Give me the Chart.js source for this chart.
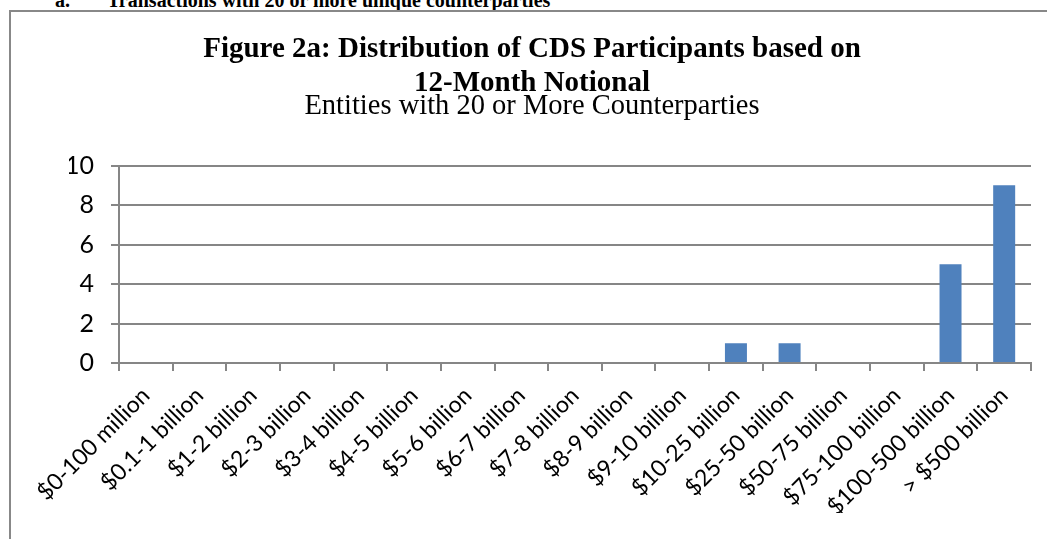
<!DOCTYPE html>
<html>
<head>
<meta charset="utf-8">
<script src="https://cdn.jsdelivr.net/npm/chart.js@4.4.0/dist/chart.umd.min.js"></script>
<style>
  html, body { margin: 0; padding: 0; width: 1047px; height: 539px; overflow: hidden; background: #fff; }
  #heading { position: absolute; left: 0; top: -10px; width: 1047px; height: 20px;
             font: bold 20px/20px "Liberation Serif", "Times New Roman", serif; color: #000; white-space: nowrap; }
  #heading span { position: absolute; top: 0; }
  #frame { position: absolute; left: 9px; top: 10px; width: 1042px; height: 560px; border: 2px solid #888; }
  canvas { display: block; }
</style>
</head>
<body>
<div id="heading"><span style="left:55px">a.</span><span style="left:107px">Transactions with 20 or more unique counterparties</span></div>
<div id="frame"><canvas id="chart" width="1042" height="540"></canvas></div>
<script>
// Notional buckets on the category axis
const categories = [
  '$0-100 million', '$0.1-1 billion', '$1-2 billion', '$2-3 billion', '$3-4 billion',
  '$4-5 billion', '$5-6 billion', '$6-7 billion', '$7-8 billion', '$8-9 billion',
  '$9-10 billion', '$10-25 billion', '$25-50 billion', '$50-75 billion',
  '$75-100 billion', '$100-500 billion', '> $500 billion'
];

// Number of entities in each bucket
const entityCounts = [0, 0, 0, 0, 0, 0, 0, 0, 0, 0, 0, 1, 1, 0, 0, 5, 9];

// Value axis
const yTicks = [0, 2, 4, 6, 8, 10];

const titleLines = ['Figure 2a: Distribution of CDS Participants based on', '12-Month Notional'];
const subtitleText = 'Entities with 20 or More Counterparties';

const AXIS_GREY = '#868686';

// Centered title block drawn above the plot area
const titleBlock = {
  id: 'titleBlock',
  afterDraw(chart) {
    const ctx = chart.ctx;
    const cx = chart.width / 2;
    ctx.save();
    ctx.fillStyle = '#000';
    ctx.textAlign = 'center';
    ctx.textBaseline = 'alphabetic';
    ctx.font = 'bold 29px "Liberation Serif"';
    ctx.fillText(titleLines[0], cx, 45);
    ctx.fillText(titleLines[1], cx, 79);
    ctx.font = '28.5px "Liberation Serif"';
    ctx.fillText(subtitleText, cx, 102);
    ctx.restore();
  }
};

new Chart(document.getElementById('chart'), {
  type: 'bar',
  data: {
    labels: categories,
    datasets: [{
      data: entityCounts,
      backgroundColor: '#4F81BD',
      borderWidth: 0,
      barPercentage: 1,
      categoryPercentage: 0.41
    }]
  },
  options: {
    responsive: false,
    animation: false,
    devicePixelRatio: 1,
    layout: { padding: { left: 58, right: 22, top: 153.5, bottom: 39 } },
    plugins: {
      legend: { display: false },
      title: { display: false },
      tooltip: { enabled: false }
    },
    scales: {
      x: {
        offset: true,
        grid: { display: true, drawOnChartArea: false, drawTicks: true, tickLength: 8, color: AXIS_GREY, lineWidth: 2, offset: true },
        border: { display: true, color: AXIS_GREY, width: 2 },
        ticks: { autoSkip: false, minRotation: 45, maxRotation: 45, color: '#000', font: { family: 'Lato', size: 23 }, padding: 11 },
        afterFit(scale) { scale.height = 150; }
      },
      y: {
        min: yTicks[0],
        max: yTicks[yTicks.length - 1],
        afterBuildTicks(scale) { scale.ticks = yTicks.map(v => ({ value: v })); },
        grid: { color: AXIS_GREY, lineWidth: 2, drawTicks: true, tickLength: 8 },
        border: { display: true, color: AXIS_GREY, width: 2 },
        ticks: { color: '#000', font: { family: 'Lato', size: 25 }, padding: 17 },
        afterFit(scale) { scale.width = 50; }
      }
    }
  },
  plugins: [titleBlock]
});
</script>
</body>
</html>
